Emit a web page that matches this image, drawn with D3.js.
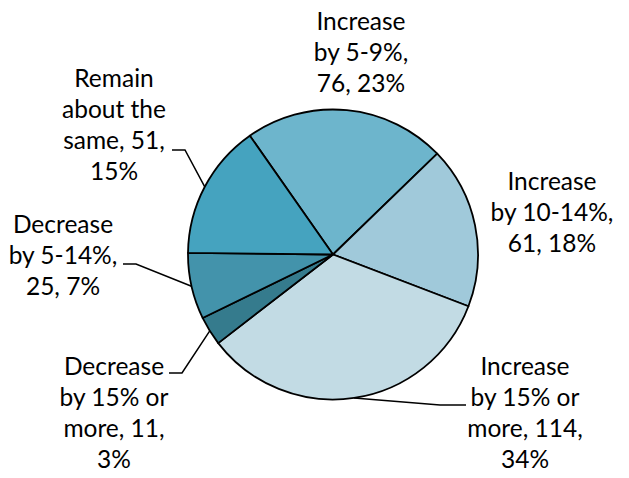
<!DOCTYPE html>
<html>
<head>
<meta charset="utf-8">
<script src="https://cdn.jsdelivr.net/npm/d3@7"></script>
<style>
  body { margin: 0; background: #fff; }
  svg text { font-family: Lato, "Open Sans", sans-serif; font-size: 24.5px; fill: #000; }
</style>
</head>
<body>
<script>
// chart data
const categories = ['Increase by 5-9%', 'Increase by 10-14%', 'Increase by 15% or more',
  'Decrease by 15% or more', 'Decrease by 5-14%', 'Remain about the same'];
const values = [76, 61, 114, 11, 25, 51];
const percents = ['23%', '18%', '34%', '3%', '7%', '15%'];

const colors = ['#6db5cc', '#a0c9da', '#c2dbe4', '#357b8d', '#4393ab', '#45a3bf'];

// label placement: text lines, centre x, first baseline, optional leader elbow
const labelLines = [
  ['Increase', 'by 5-9%,', '76, 23%'],
  ['Increase', 'by 10-14%,', '61, 18%'],
  ['Increase', 'by 15% or', 'more, 114,', '34%'],
  ['Decrease', 'by 15% or', 'more, 11,', '3%'],
  ['Decrease', 'by 5-14%,', '25, 7%'],
  ['Remain', 'about the', 'same, 51,', '15%']
];
const labelX = [361, 552, 525, 114, 63, 114];
const labelY = [30, 190, 375, 375, 233, 87];
const leaders = [
  null,
  null,
  [[440, 405], [466, 405]],
  [[182, 373], [169, 373]],
  [[136, 264], [123, 264]],
  [[185, 150], [172, 150]]
];

const width = 629, height = 478;
const cx = 333, cy = 254.5, radius = 145;
const lineH = 31;

const svg = d3.select('body')
  .append('svg')
  .attr('width', width)
  .attr('height', height);

const pie = d3.pie()
  .sort(null)
  .value(d => d)
  .startAngle(-35 * Math.PI / 180)
  .endAngle(325 * Math.PI / 180);

const arc = d3.arc().innerRadius(0).outerRadius(radius);
const arcs = pie(values);

const g = svg.append('g').attr('transform', `translate(${cx},${cy})`);

g.selectAll('path.slice')
  .data(arcs)
  .enter()
  .append('path')
  .attr('class', 'slice')
  .attr('d', arc)
  .attr('fill', (d, i) => colors[i])
  .attr('stroke', '#000')
  .attr('stroke-width', 1.8)
  .attr('stroke-linejoin', 'round');

// leader lines from slice mid-angle on the rim
arcs.forEach((d, i) => {
  if (!leaders[i]) return;
  const mid = (d.startAngle + d.endAngle) / 2;
  const p0 = [cx + radius * Math.sin(mid), cy - radius * Math.cos(mid)];
  svg.append('path')
    .datum([p0].concat(leaders[i]))
    .attr('d', d3.line())
    .attr('fill', 'none')
    .attr('stroke', '#000')
    .attr('stroke-width', 1.5);
});

// labels
categories.forEach((c, i) => {
  const t = svg.append('text')
    .attr('text-anchor', 'middle')
    .attr('x', labelX[i])
    .attr('y', labelY[i]);
  labelLines[i].forEach((ln, j) => {
    t.append('tspan')
      .attr('x', labelX[i])
      .attr('dy', j === 0 ? 0 : lineH)
      .text(ln);
  });
});
</script>
</body>
</html>
